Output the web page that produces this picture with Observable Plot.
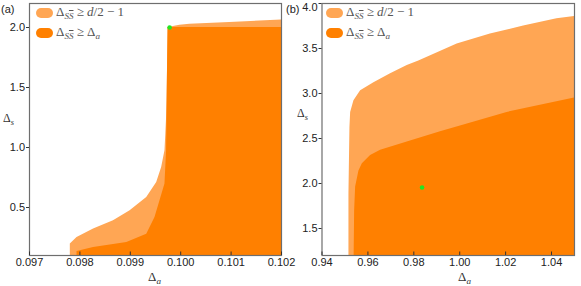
<!DOCTYPE html>
<html>
<head>
<meta charset="utf-8">
<script src="https://cdn.jsdelivr.net/npm/d3@7"></script>
<script src="https://cdn.jsdelivr.net/npm/@observablehq/plot@0.6"></script>
<style>
  html, body { margin: 0; padding: 0; background: #fff; }
  #wrap { position: relative; width: 581px; height: 286px; overflow: hidden; }
  .plot { position: absolute; top: 0; overflow: visible !important; }
  .t { position: absolute; white-space: nowrap; line-height: 1; }
  .sans { font-family: "Liberation Sans", Arial, sans-serif; font-size: 11px; color: #222; }
  .serif { font-family: "Liberation Serif", "DejaVu Serif", serif; }
  .sw { position: absolute; width: 16.5px; height: 10px; border-radius: 5px; }
  sub { font-size: 0.7em; vertical-align: -0.3em; line-height: 0; }
  .ob { text-decoration: overline; }
</style>
</head>
<body>
<div id="wrap"></div>
<script>
// ---------- data ----------
const colors = { light: "#FFA654", dark: "#FF8000", dot: "#22E622" };

// Panel (a)
const aXTicks = [0.097, 0.098, 0.099, 0.100, 0.101, 0.102];
const aYTicks = [0.5, 1.0, 1.5, 2.0];
const aXDomain = [0.097, 0.102];
const aYDomain = [0.1, 2.2];
// region Δ_SS̄ ≥ d/2 − 1 : upper boundary [Δa, Δs]
const aLight = [
  [0.09781, 0.1], [0.09781, 0.195], [0.097943, 0.25], [0.098271, 0.32],
  [0.098666, 0.389], [0.098996, 0.472], [0.099326, 0.583], [0.099524, 0.708],
  [0.099622, 0.833], [0.099688, 0.973], [0.099705, 1.112], [0.09972, 1.25],
  [0.09973, 1.389], [0.09974, 1.72], [0.09975, 2.0], [0.099984, 2.018],
  [0.100182, 2.028], [0.100972, 2.042], [0.102, 2.062]
];
// region Δ_SS̄ ≥ Δa : upper boundary
const aDark = [
  [0.097943, 0.1], [0.097943, 0.133], [0.098271, 0.167], [0.098931, 0.208],
  [0.099326, 0.278], [0.09949, 0.417], [0.099589, 0.556], [0.099688, 0.695],
  [0.09972, 0.973], [0.09973, 1.389], [0.09975, 2.0], [0.102, 2.0]
];
const aPoint = [[0.09978, 2.0]];

// Panel (b)
const bXTicks = [0.94, 0.96, 0.98, 1.00, 1.02, 1.04];
const bYTicks = [1.5, 2.0, 2.5, 3.0, 3.5, 4.0];
const bXDomain = [0.94, 1.05];
const bYDomain = [1.2, 4.0];
const bLight = [
  [0.95174, 1.2], [0.95174, 1.88], [0.95217, 2.62], [0.95248, 2.79],
  [0.95391, 2.92], [0.95683, 3.03], [0.96261, 3.12], [0.96987, 3.22],
  [0.97713, 3.31], [0.98217, 3.36], [0.99887, 3.55], [1.01335, 3.66],
  [1.02783, 3.75], [1.04235, 3.83], [1.05, 3.856]
];
const bDark = [
  [0.954, 1.2], [0.95422, 1.70], [0.95465, 1.96], [0.95609, 2.14],
  [0.95757, 2.22], [0.96117, 2.31], [0.96552, 2.37], [0.97713, 2.46],
  [0.99161, 2.575], [1.0003, 2.64], [1.02061, 2.79], [1.05, 2.95]
];
const bPoint = [[0.9836, 1.955]];

// ---------- drawing ----------
function panel({xDomain, yDomain, xTicks, yTicks, xFmt, yFmt, light, dark, point, width, marginLeft, marginRight}) {
  const topTick = yTicks.filter(t => t >= yDomain[1] - 1e-9);
  return Plot.plot({
    width, height: 286,
    marginLeft, marginRight, marginTop: 3, marginBottom: 31,
    style: { fontFamily: "Liberation Sans, Arial, sans-serif", fontSize: "11px", color: "#222", background: "transparent", overflow: "visible" },
    x: { domain: xDomain, label: null },
    y: { domain: yDomain, label: null },
    marks: [
      Plot.areaY(light, { x: d => d[0], y1: yDomain[0], y2: d => d[1], fill: colors.light, curve: "linear" }),
      Plot.areaY(dark, { x: d => d[0], y1: yDomain[0], y2: d => d[1], fill: colors.dark, curve: "linear" }),
      Plot.dot(point, { x: d => d[0], y: d => d[1], r: 2.3, fill: colors.dot }),
      Plot.frame({ stroke: "#6e6e6e", strokeWidth: 1.2 }),
      Plot.axisX(xTicks, { tickSize: -3.5, tickPadding: 6, tickFormat: xFmt, stroke: "#333", fill: "#222", label: null }),
      Plot.axisY(yTicks, { tickSize: 3, tickPadding: 1.5, tickFormat: d => topTick.includes(d) ? "" : yFmt(d), stroke: "#333", fill: "#222", label: null }),
      Plot.axisY(topTick, { tickSize: 0, tickPadding: 4.5, dy: 4, tickFormat: yFmt, fill: "#222", label: null })
    ]
  });
}

const wrap = document.getElementById("wrap");

const pa = panel({
  xDomain: aXDomain, yDomain: aYDomain, xTicks: aXTicks, yTicks: aYTicks,
  xFmt: d => d.toFixed(3), yFmt: d => d.toFixed(1),
  light: aLight, dark: aDark, point: aPoint,
  width: 290, marginLeft: 29, marginRight: 9
});
pa.classList.add("plot"); pa.style.left = "0px";
wrap.appendChild(pa);

const pb = panel({
  xDomain: bXDomain, yDomain: bYDomain, xTicks: bXTicks, yTicks: bYTicks,
  xFmt: d => d.toFixed(2), yFmt: d => d.toFixed(1),
  light: bLight, dark: bDark, point: bPoint,
  width: 291, marginLeft: 31.5, marginRight: 7
});
pb.classList.add("plot"); pb.style.left = "290px";
wrap.appendChild(pb);

// ---------- texts (labels and legends) ----------
function addText(html, left, top, cls, extra = "") {
  const el = document.createElement("div");
  el.className = "t " + cls;
  el.style.left = left + "px";
  el.style.top = top + "px";
  if (extra) el.style.cssText += extra;
  el.innerHTML = html;
  wrap.appendChild(el);
  return el;
}
function addSwatch(color, left, top) {
  const el = document.createElement("div");
  el.className = "sw";
  el.style.left = left + "px";
  el.style.top = top + "px";
  el.style.background = color;
  wrap.appendChild(el);
}

const legendLabels = [
  'Δ<sub><i>S<span class="ob">S</span></i></sub> ≥ <i>d</i>/2 − 1',
  'Δ<sub><i>S<span class="ob">S</span></i></sub> ≥ Δ<sub><i>a</i></sub>'
];
const xLabel = 'Δ<sub><i>a</i></sub>';
const yLabel = 'Δ<sub><i>s</i></sub>';

// panel labels
addText("(a)", 1, 4, "sans");
addText("(b)", 286, 4, "sans");

// legends
[[0], [290]].forEach(([ox]) => {
  addSwatch(colors.light, ox + 36, 7.5);
  addSwatch(colors.dark, ox + 36, 27.5);
  addText(legendLabels[0], ox + 56, 5, "serif", "font-size:13px;color:#555;");
  addText(legendLabels[1], ox + 56, 25, "serif", "font-size:13px;color:#555;");
});

// axis labels
addText(xLabel, 148, 270, "serif", "font-size:13px;color:#333;");
addText(xLabel, 458, 270, "serif", "font-size:13px;color:#333;");
addText(yLabel, 3, 112, "serif", "font-size:12px;color:#333;");
addText(yLabel, 297, 107, "serif", "font-size:12px;color:#333;");
</script>
</body>
</html>
